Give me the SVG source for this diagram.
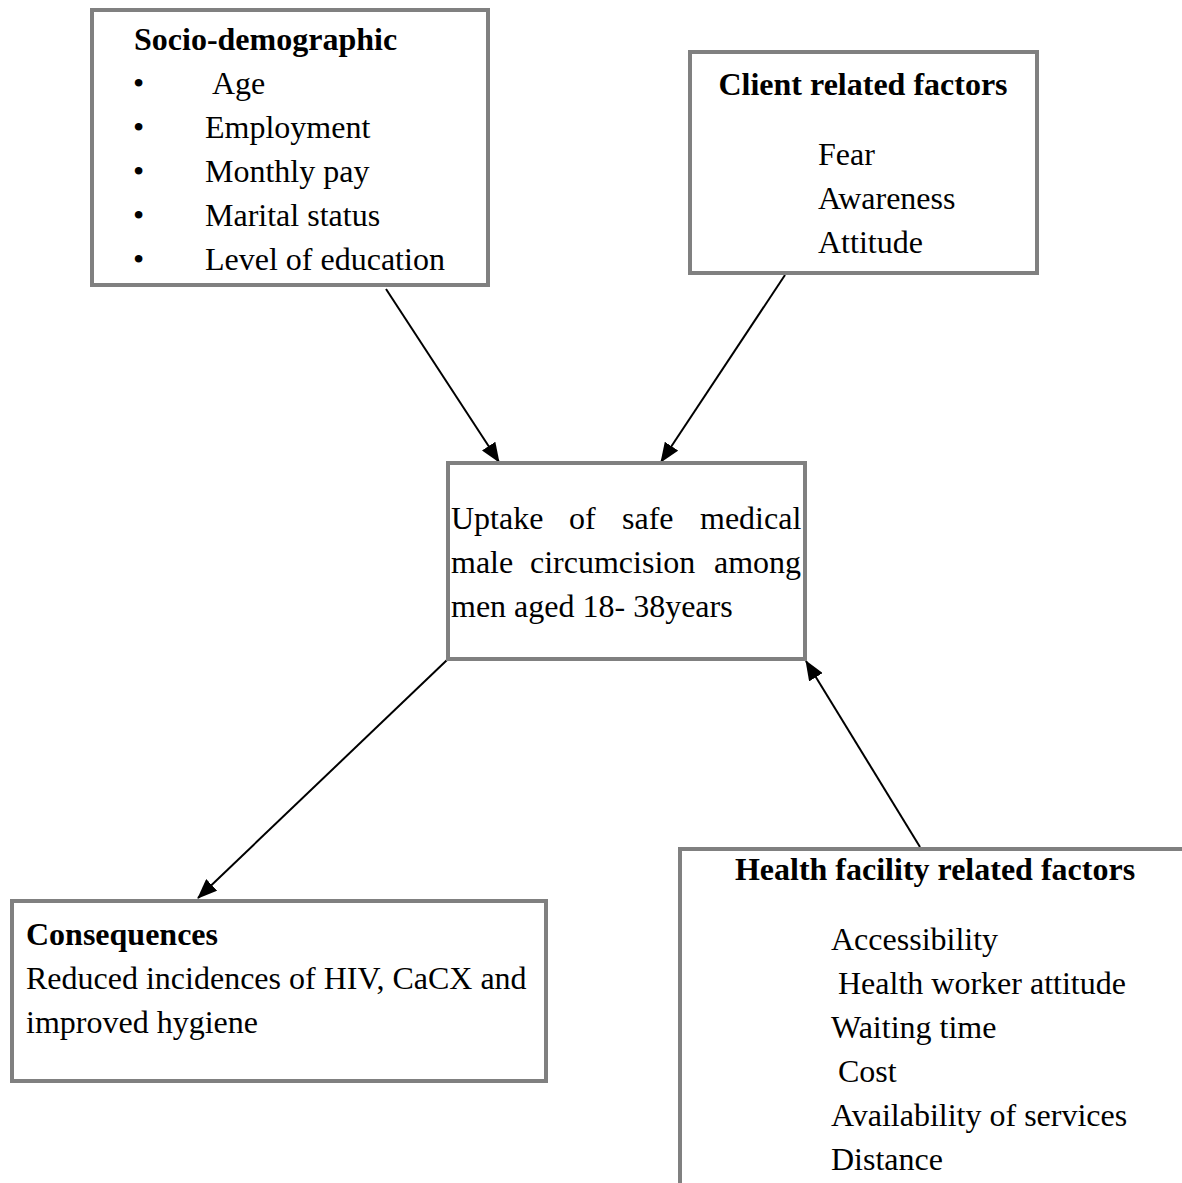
<svg xmlns="http://www.w3.org/2000/svg" width="1182" height="1183" viewBox="0 0 1182 1183">
<style>
.box{fill:#fff;stroke:#808080;stroke-width:4}
.t{font-family:"Liberation Serif","Times New Roman",serif;font-size:32px;fill:#000}
.b{font-weight:bold}
.c{stroke:#000;stroke-width:2;fill:none}
</style>
<defs>
<marker id="arr" markerUnits="userSpaceOnUse" markerWidth="20" markerHeight="16" refX="19" refY="8" orient="auto">
<path d="M0,0 L20,8 L0,16 z" fill="#000"/>
</marker>
</defs>
<rect width="1182" height="1183" fill="#fff"/>
<g id="connectors">
<line class="c" x1="386" y1="289" x2="499" y2="462" marker-end="url(#arr)"/>
<line class="c" x1="785" y1="275" x2="661" y2="462" marker-end="url(#arr)"/>
<line class="c" x1="447" y1="660" x2="198" y2="898" marker-end="url(#arr)"/>
<line class="c" x1="920" y1="847" x2="806" y2="661" marker-end="url(#arr)"/>
</g>
<g id="socio">
<rect class="box" x="92" y="10" width="396" height="275"/>
<text class="t b" x="134" y="50">Socio-demographic</text>
<text class="t" x="133" y="94">•</text><text class="t" x="212" y="94">Age</text>
<text class="t" x="133" y="138">•</text><text class="t" x="205" y="138">Employment</text>
<text class="t" x="133" y="182">•</text><text class="t" x="205" y="182">Monthly pay</text>
<text class="t" x="133" y="226">•</text><text class="t" x="205" y="226">Marital status</text>
<text class="t" x="133" y="270">•</text><text class="t" x="205" y="270">Level of education</text>
</g>
<g id="client">
<rect class="box" x="690" y="52" width="347" height="221"/>
<text class="t b" x="863" y="95" text-anchor="middle">Client related factors</text>
<text class="t" x="818" y="165">Fear</text>
<text class="t" x="818" y="209">Awareness</text>
<text class="t" x="818" y="253">Attitude</text>
</g>
<g id="uptake">
<rect class="box" x="448" y="463" width="357" height="196"/>
<text class="t" y="529"><tspan x="451">Uptake</tspan><tspan x="569">of</tspan><tspan x="622">safe</tspan><tspan x="700">medical</tspan></text>
<text class="t" y="573"><tspan x="451">male</tspan><tspan x="530">circumcision</tspan><tspan x="714">among</tspan></text>
<text class="t" x="451" y="617">men aged 18- 38years</text>
</g>
<g id="consequences">
<rect class="box" x="12" y="901" width="534" height="180"/>
<text class="t b" x="26" y="945">Consequences</text>
<text class="t" x="26" y="989">Reduced incidences of HIV, CaCX and</text>
<text class="t" x="26" y="1033">improved hygiene</text>
</g>
<g id="health">
<rect class="box" x="680" y="849" width="540" height="400"/>
<text class="t b" x="935" y="880" text-anchor="middle">Health facility related factors</text>
<text class="t" x="831" y="950">Accessibility</text>
<text class="t" x="838" y="994">Health worker attitude</text>
<text class="t" x="831" y="1038">Waiting time</text>
<text class="t" x="838" y="1082">Cost</text>
<text class="t" x="831" y="1126">Availability of services</text>
<text class="t" x="831" y="1170">Distance</text>
</g>
</svg>
